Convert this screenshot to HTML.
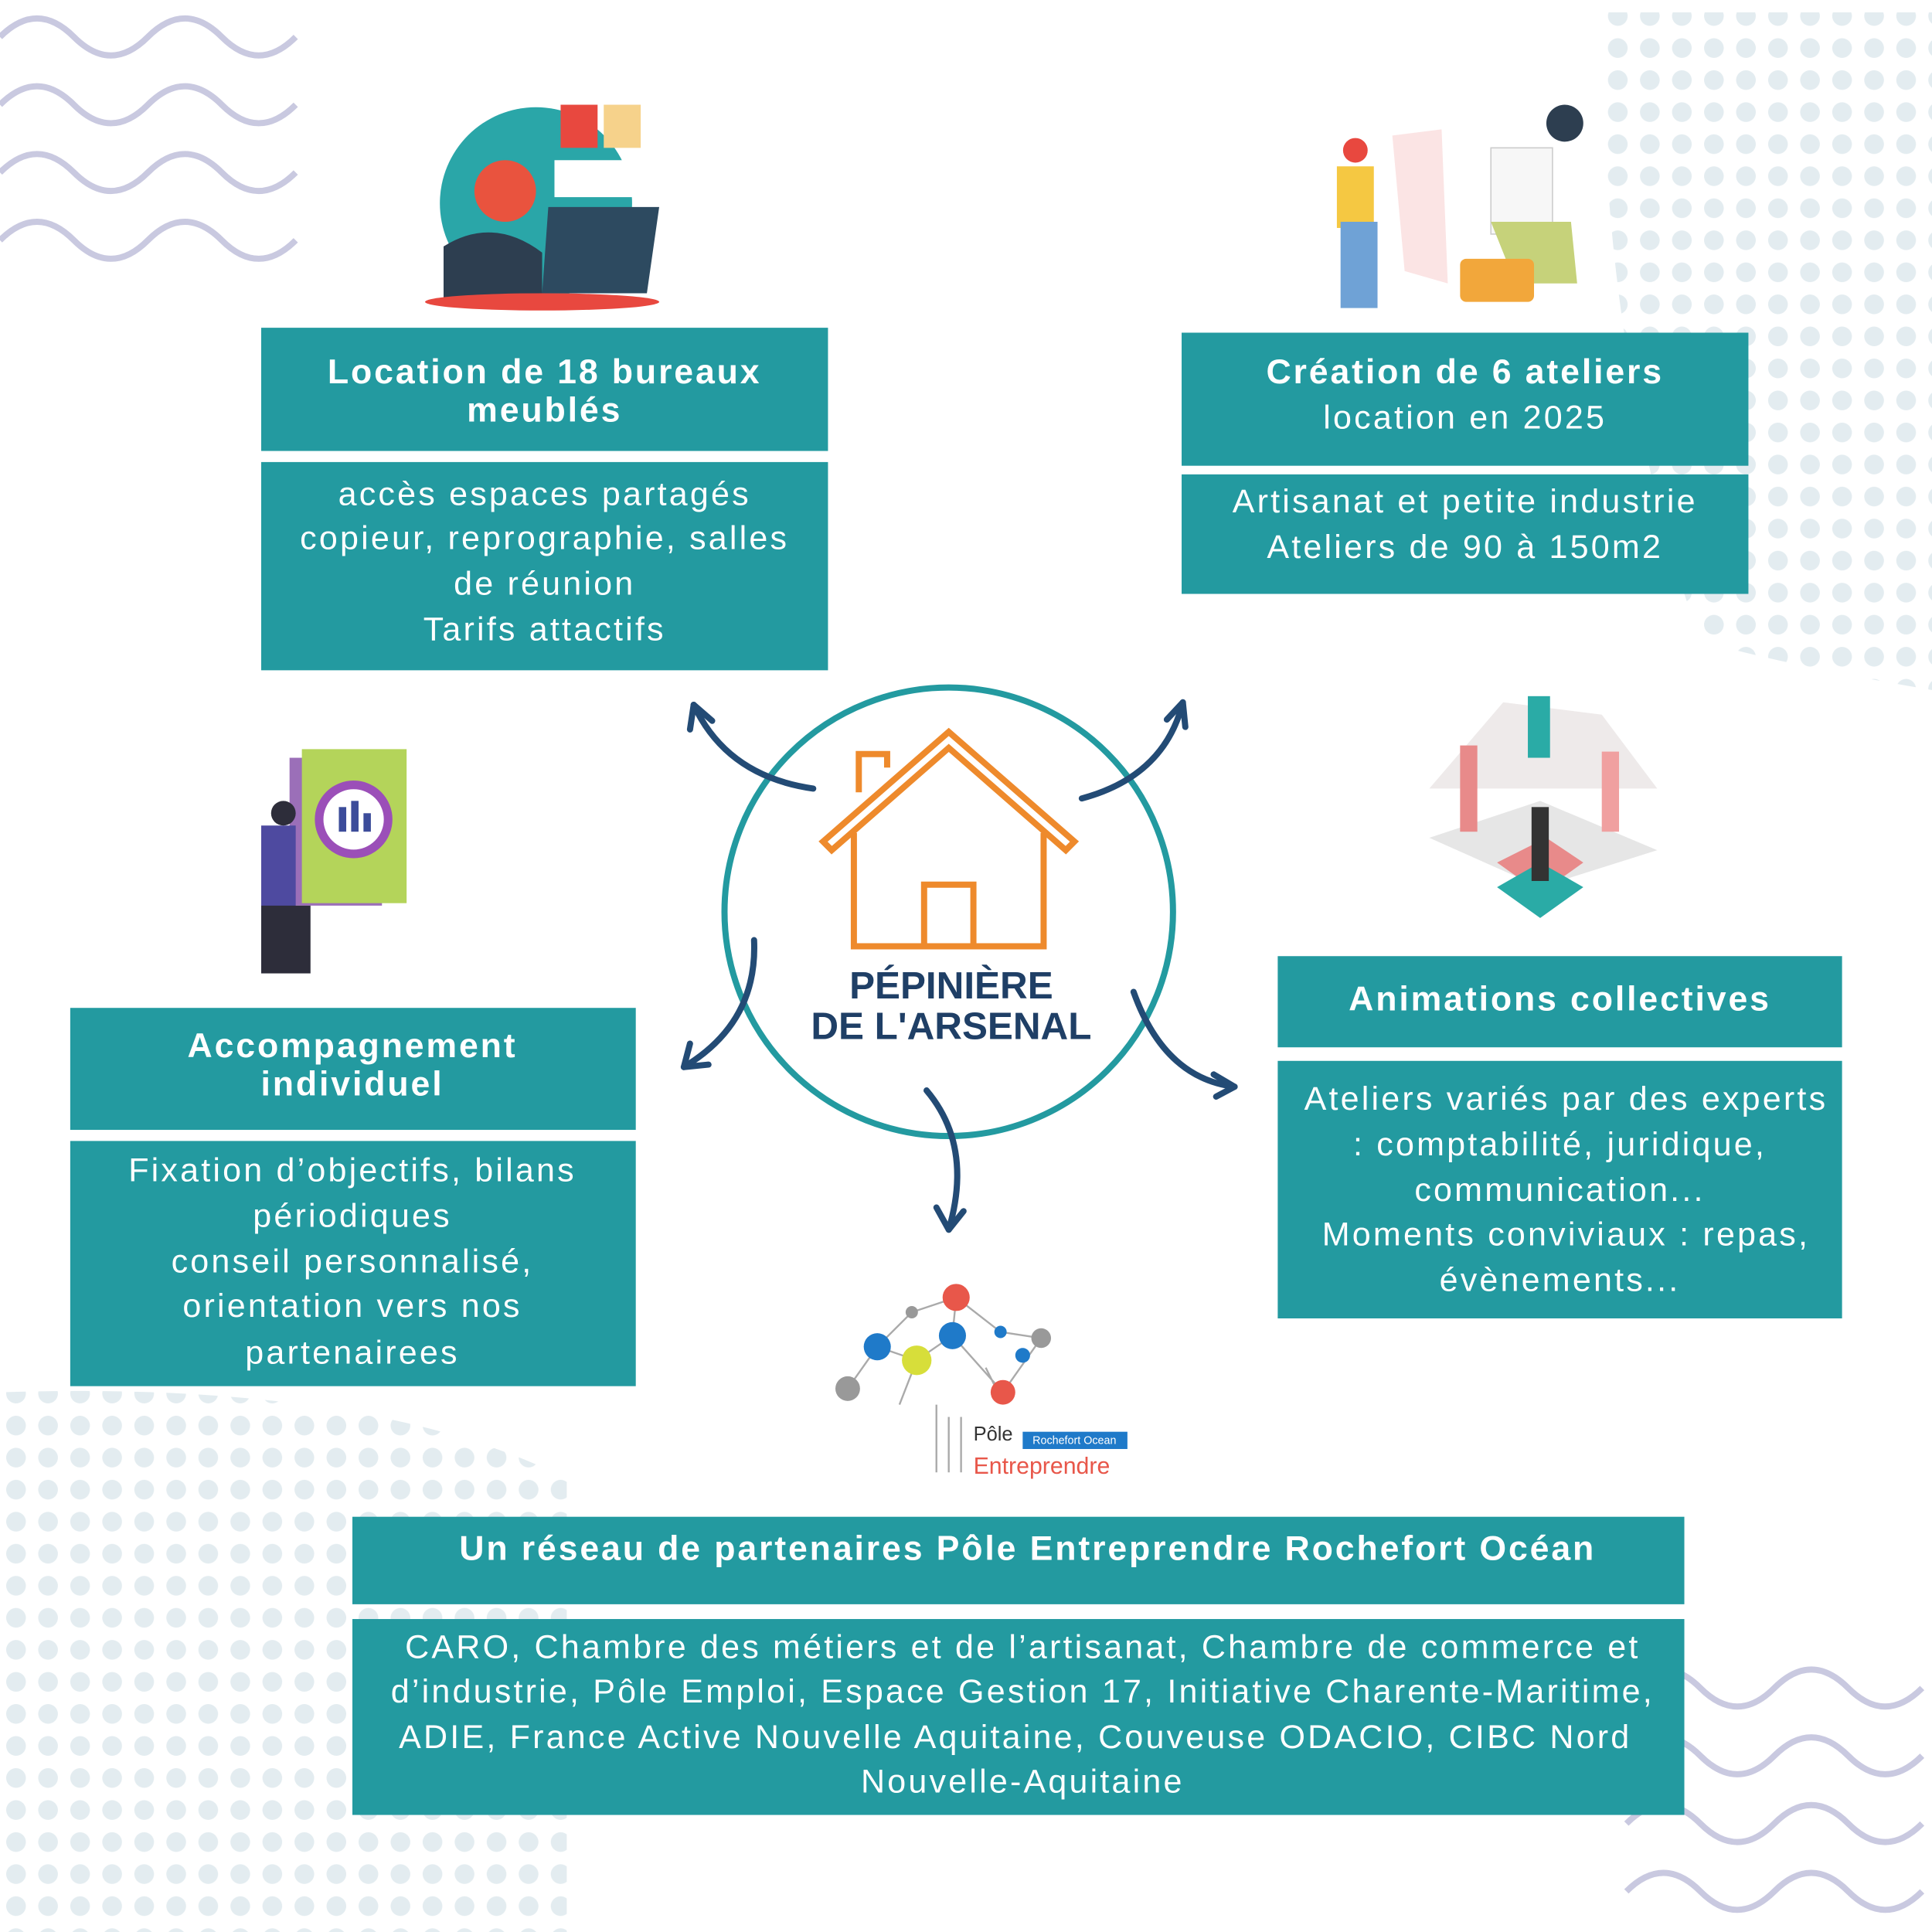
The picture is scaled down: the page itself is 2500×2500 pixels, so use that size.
<!DOCTYPE html>
<html><head><meta charset="utf-8">
<style>
html,body{margin:0;padding:0;background:#fff;}
svg{display:block;}
.h{font-family:"Liberation Sans",sans-serif;font-weight:bold;fill:#fff;font-size:28px;letter-spacing:1.8px;text-anchor:middle;dominant-baseline:central;}
.b{font-family:"Liberation Sans",sans-serif;fill:#fff;font-size:27px;letter-spacing:2px;text-anchor:middle;dominant-baseline:central;}
</style></head><body>
<svg width="2500" height="2500" viewBox="0 0 1568 1568" xmlns="http://www.w3.org/2000/svg">
<defs>
<pattern id="dots" width="26" height="26" patternUnits="userSpaceOnUse">
<circle cx="13" cy="13" r="8" fill="#e3ecf0"/>
</pattern>
</defs>
<rect width="1568" height="1568" fill="#fff"/>
<path d="M1300,10 L1568,10 L1568,560 Q1450,540 1380,520 Q1300,300 1300,10Z" fill="url(#dots)"/>
<path d="M0,1130 Q300,1120 460,1200 L460,1568 L0,1568Z" fill="url(#dots)"/>
<g fill="none" stroke="#c9c9e0" stroke-width="5">
<path d="M0,30 q30,-30 60,0 t60,0 t60,0 t60,0"/>
<path d="M0,85 q30,-30 60,0 t60,0 t60,0 t60,0"/>
<path d="M0,140 q30,-30 60,0 t60,0 t60,0 t60,0"/>
<path d="M0,195 q30,-30 60,0 t60,0 t60,0 t60,0"/>
<path d="M1320,1370 q30,-30 60,0 t60,0 t60,0 t60,0"/>
<path d="M1320,1425 q30,-30 60,0 t60,0 t60,0 t60,0"/>
<path d="M1320,1480 q30,-30 60,0 t60,0 t60,0 t60,0"/>
<path d="M1320,1535 q30,-30 60,0 t60,0 t60,0 t60,0"/>
</g>
<rect x="212" y="266" width="460" height="100" fill="#239aa0"/>
<rect x="212" y="375" width="460" height="169" fill="#239aa0"/>
<text class="h" x="442" y="302">Location de 18 bureaux</text>
<text class="h" x="442" y="333">meublés</text>
<text class="b" x="442" y="401">accès espaces partagés</text>
<text class="b" x="442" y="437">copieur, reprographie, salles</text>
<text class="b" x="442" y="474">de réunion</text>
<text class="b" x="442" y="511">Tarifs attactifs</text>
<rect x="959" y="270" width="460" height="108" fill="#239aa0"/>
<rect x="959" y="385" width="460" height="97" fill="#239aa0"/>
<text class="h" x="1189" y="302">Création de 6 ateliers</text>
<text class="b" x="1189" y="339">location en 2025</text>
<text class="b" x="1189" y="407">Artisanat et petite industrie</text>
<text class="b" x="1189" y="444">Ateliers de 90 à 150m2</text>
<rect x="57" y="818" width="459" height="99" fill="#239aa0"/>
<rect x="57" y="926" width="459" height="199" fill="#239aa0"/>
<text class="h" x="286" y="849">Accompagnement</text>
<text class="h" x="286" y="880">individuel</text>
<text class="b" x="286" y="950">Fixation d’objectifs, bilans</text>
<text class="b" x="286" y="987">périodiques</text>
<text class="b" x="286" y="1024">conseil personnalisé,</text>
<text class="b" x="286" y="1060">orientation vers nos</text>
<text class="b" x="286" y="1098">partenairees</text>
<rect x="1037" y="776" width="458" height="74" fill="#239aa0"/>
<rect x="1037" y="861" width="458" height="209" fill="#239aa0"/>
<text class="h" x="1266" y="811">Animations collectives</text>
<text class="b" x="1271" y="892">Ateliers variés par des experts</text>
<text class="b" x="1266" y="929">: comptabilité, juridique,</text>
<text class="b" x="1266" y="966">communication...</text>
<text class="b" x="1271" y="1002">Moments conviviaux : repas,</text>
<text class="b" x="1266" y="1039">évènements...</text>
<rect x="286" y="1231" width="1081" height="71" fill="#239aa0"/>
<rect x="286" y="1314" width="1081" height="159" fill="#239aa0"/>
<text class="h" x="834" y="1257">Un réseau de partenaires Pôle Entreprendre Rochefort Océan</text>
<text class="b" x="830" y="1337">CARO, Chambre des métiers et de l’artisanat, Chambre de commerce et</text>
<text class="b" x="830" y="1373">d’industrie, Pôle Emploi, Espace Gestion 17, Initiative Charente-Maritime,</text>
<text class="b" x="824" y="1410">ADIE, France Active Nouvelle Aquitaine, Couveuse ODACIO, CIBC Nord</text>
<text class="b" x="830" y="1446">Nouvelle-Aquitaine</text>
<circle cx="770" cy="740" r="182" fill="none" stroke="#239aa0" stroke-width="5"/>
<g fill="none" stroke="#ee8a2c" stroke-width="5" stroke-linejoin="miter">
<path d="M668,683 L770,594 L872,683 L865,690 L770,607 L675,690Z"/>
<path d="M697,643 L697,612 L720,612 L720,623"/>
<path d="M693,676 L693,768 L847,768 L847,676"/>
<path d="M750,768 L750,718 L790,718 L790,768"/>
</g>
<text x="772" y="800" style="font-family:'Liberation Sans',sans-serif;font-weight:bold;font-size:31px;fill:#1f3f66;text-anchor:middle;dominant-baseline:central">PÉPINIÈRE</text>
<text x="772" y="833" style="font-family:'Liberation Sans',sans-serif;font-weight:bold;font-size:31px;fill:#1f3f66;text-anchor:middle;dominant-baseline:central">DE L'ARSENAL</text>
<g fill="none" stroke="#234b75" stroke-width="5" stroke-linecap="round">
<path d="M660,640 Q590,630 563,572"/><path d="M563,572 L560,592 M563,572 L578,585"/>
<path d="M878,648 Q945,630 960,570"/><path d="M960,570 L947,584 M960,570 L962,590"/>
<path d="M612,763 Q615,830 555,866"/><path d="M555,866 L575,864 M555,866 L560,847"/>
<path d="M920,805 Q945,875 1002,882"/><path d="M1002,882 L985,872 M1002,882 L987,890"/>
<path d="M752,885 Q790,930 770,998"/><path d="M770,998 L760,980 M770,998 L782,983"/>
</g>
<circle cx="435" cy="165" r="78" fill="#2aa6a8"/>
<rect x="455" y="85" width="30" height="35" fill="#e8483f"/>
<rect x="490" y="85" width="30" height="35" fill="#f6d28b"/>
<rect x="450" y="130" width="72" height="30" fill="#fff"/>
<path d="M445,168 L535,168 L525,238 L440,238Z" fill="#2d4a60"/>
<circle cx="410" cy="155" r="25" fill="#e9533e"/>
<path d="M360,200 Q400,175 440,205 L440,245 L360,245Z" fill="#2d3e50"/>
<ellipse cx="440" cy="245" rx="95" ry="7" fill="#e8483f"/>
<g>
<rect x="1085" y="135" width="30" height="50" fill="#f5c842"/>
<rect x="1088" y="180" width="30" height="70" fill="#6fa2d6"/>
<circle cx="1100" cy="122" r="10" fill="#e8483f"/>
<path d="M1130,110 L1170,105 L1175,230 L1140,220Z" fill="#fbe4e4"/>
<circle cx="1270" cy="100" r="15" fill="#2d3e50"/>
<rect x="1210" y="120" width="50" height="70" fill="#f7f7f7" stroke="#ccc"/>
<path d="M1210,180 L1275,180 L1280,230 L1230,230Z" fill="#c6d27a"/>
<rect x="1185" y="210" width="60" height="35" rx="5" fill="#f2a73b"/>
</g>
<g>
<rect x="235" y="615" width="75" height="120" fill="#9b6fb8"/>
<rect x="245" y="608" width="85" height="125" fill="#b4d45a"/>
<circle cx="287" cy="665" r="28" fill="#fff" stroke="#9b4fb8" stroke-width="7"/>
<rect x="275" y="655" width="6" height="20" fill="#3c4c9a"/><rect x="285" y="650" width="6" height="25" fill="#3c4c9a"/><rect x="295" y="660" width="6" height="15" fill="#3c4c9a"/>
<rect x="212" y="670" width="28" height="70" fill="#4e4aa0"/>
<rect x="212" y="735" width="40" height="55" fill="#2d2d3a"/>
<circle cx="230" cy="660" r="10" fill="#2d2d3a"/>
</g>
<g>
<path d="M1160,640 L1220,570 L1300,580 L1345,640 Z" fill="#eeeaea"/>
<path d="M1160,680 L1250,650 L1345,690 L1250,720Z" fill="#e6e6e6"/>
<path d="M1215,700 L1255,680 L1285,700 L1250,725Z" fill="#e88a8a"/>
<path d="M1215,720 L1250,700 L1285,720 L1250,745Z" fill="#2aaba6"/>
<rect x="1240" y="565" width="18" height="50" fill="#2aaba6"/>
<rect x="1243" y="655" width="14" height="60" fill="#333"/>
<rect x="1185" y="605" width="14" height="70" fill="#e88a8a"/>
<rect x="1300" y="610" width="14" height="65" fill="#f0a0a0"/>
</g>
<g stroke="#aaa" stroke-width="1.5" fill="none">
<path d="M688,1127 L712,1093 L744,1104 L773,1084 L776,1053 L812,1081 L845,1086 L814,1130 L773,1084 M712,1093 L740,1065 L776,1053 M744,1104 L730,1140 M800,1110 L810,1130 M760,1140 L760,1195 M770,1150 L770,1195 M780,1150 L780,1195"/>
</g>
<circle cx="776" cy="1053" r="11" fill="#e8574a"/>
<circle cx="712" cy="1093" r="11" fill="#1f7ac9"/>
<circle cx="773" cy="1084" r="11" fill="#1f7ac9"/>
<circle cx="744" cy="1104" r="12" fill="#d7de3a"/>
<circle cx="688" cy="1127" r="10" fill="#999"/>
<circle cx="814" cy="1130" r="10" fill="#e8574a"/>
<circle cx="845" cy="1086" r="8" fill="#999"/>
<circle cx="740" cy="1065" r="5" fill="#999"/>
<circle cx="812" cy="1081" r="5" fill="#1f7ac9"/>
<circle cx="830" cy="1100" r="6" fill="#1f7ac9"/>
<text x="790" y="1169" style="font-family:'Liberation Sans',sans-serif;font-size:16px;fill:#333">Pôle</text>
<rect x="830" y="1162" width="85" height="14" fill="#1f7ac9"/>
<text x="872" y="1172" style="font-family:'Liberation Sans',sans-serif;font-size:9px;fill:#fff;text-anchor:middle">Rochefort Ocean</text>
<text x="790" y="1196" style="font-family:'Liberation Sans',sans-serif;font-size:19px;fill:#e8574a">Entreprendre</text>
</svg>
</body></html>
